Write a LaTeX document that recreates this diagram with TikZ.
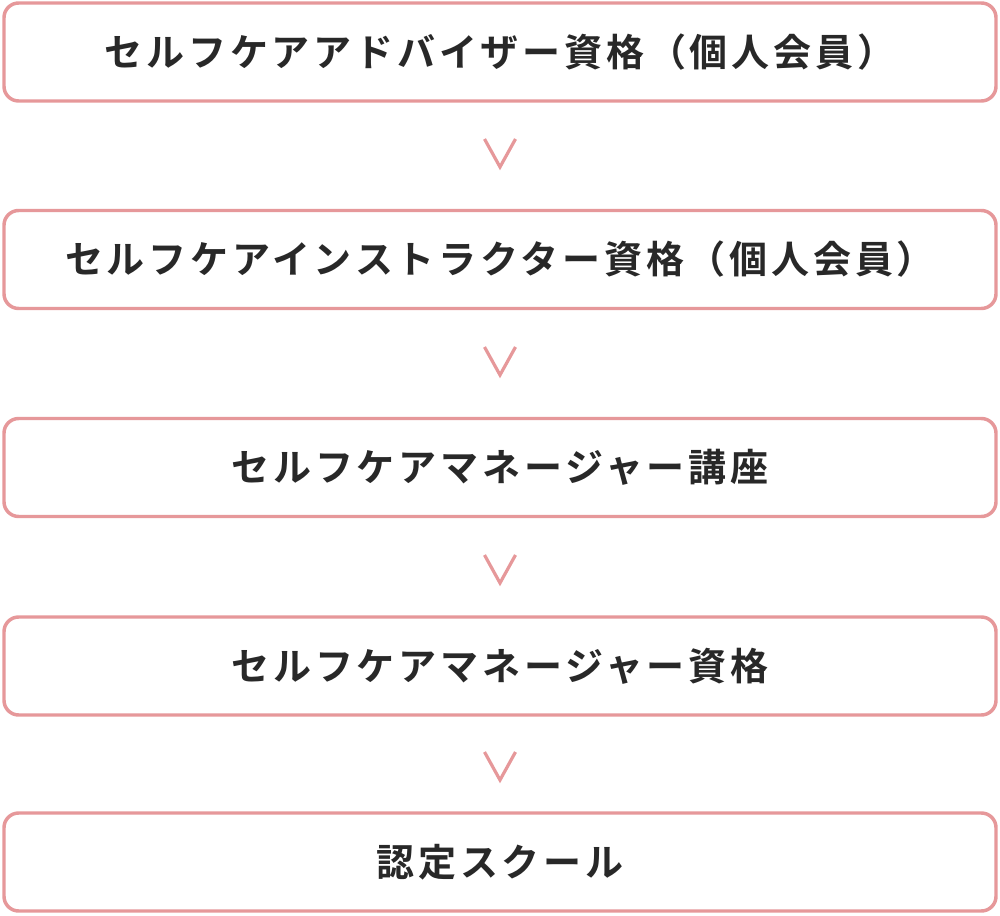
\documentclass[tikz,border=0pt]{standalone}
\usepackage{fontspec}
\usepackage{tikz}
\newfontfamily\jpfont[LetterSpace=10,BoldFont={Noto Sans CJK JP Bold}]{Noto Sans CJK JP}
\definecolor{stepPink}{RGB}{230,152,154}
\definecolor{stepText}{RGB}{40,40,40}
\tikzset{
  stepbox/.style={draw=stepPink, line width=2.6pt, rounded corners=11pt, fill=white,
    minimum width=744pt, minimum height=73.5pt, inner sep=0pt,
    text=stepText, font=\jpfont\bfseries\fontsize{28.5}{34}\selectfont},
  chevron/.style={draw=stepPink, line width=2.4pt}
}
\begin{document}
\begin{tikzpicture}[x=0.75pt,y=0.75pt,yscale=-1,xscale=1]
\useasboundingbox (0,0) rectangle (1000,916);

% Rounded boxes
\node [stepbox] (adviser) at (500,52) {セルフケアアドバイザー資格（個人会員）};
\node [stepbox] (instructor) at (500,259.5) {セルフケアインストラクター資格（個人会員）};
\node [stepbox] (course) at (500,467.5) {セルフケアマネージャー講座};
\node [stepbox] (manager) at (500,666) {セルフケアマネージャー資格};
\node [stepbox] (school) at (500,862) {認定スクール};

% Chevrons
\draw [chevron] (484.5,139) -- (500,167) -- (515.5,139) ;
\draw [chevron] (484.5,347) -- (500,375) -- (515.5,347) ;
\draw [chevron] (484.5,555) -- (500,583) -- (515.5,555) ;
\draw [chevron] (484.5,752) -- (500,780) -- (515.5,752) ;

\end{tikzpicture}
\end{document}
